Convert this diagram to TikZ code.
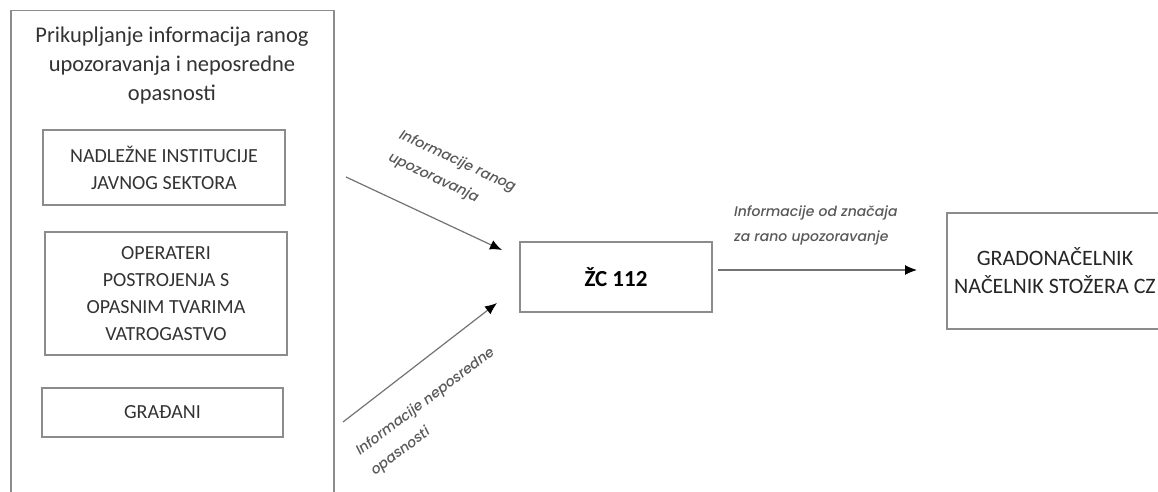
\documentclass[tikz,border=0pt]{standalone}
\usepackage{fontspec}
\setmainfont{Carlito}
\newfontfamily\labelfont{Poppins}[UprightFont=* Medium,ItalicFont=* Medium Italic]
\usetikzlibrary{arrows.meta,positioning}
\definecolor{BoxClr}{rgb}{0.55,0.55,0.55}
\definecolor{TextClr}{rgb}{0.2,0.2,0.2}
\definecolor{LineClr}{rgb}{0.45,0.45,0.45}
\definecolor{LabelClr}{rgb}{0.35,0.35,0.35}

\begin{document}
\begin{tikzpicture}[x=1pt,y=-1pt,
  box/.style={draw=BoxClr,line width=1.5pt,align=center,inner sep=0pt,text=TextClr,
    font=\fontsize{20}{27}\selectfont},
  flow/.style={draw=LineClr,line width=1.2pt,-{Latex[black,length=12pt,width=10pt]}},
  info/.style={align=left,inner sep=0pt,text=LabelClr,
    font=\labelfont\itshape\fontsize{14}{25}\selectfont}]
\useasboundingbox (0,0) rectangle (1158,492);
\fill[white] (0,0) rectangle (1158,492);

% Collecting side with its three sources.
\node[box,minimum width=323pt,minimum height=500pt,anchor=north west] (collect) at (10,10) {};
\node[align=center,text=TextClr,font=\fontsize{22.5}{29}\selectfont] (title) at (172,66)
  {Prikupljanje informacija ranog\\upozoravanja i neposredne\\opasnosti};
\node[box,minimum width=242pt,minimum height=75pt] (inst) at (164,167.5)
  {NADLEŽNE INSTITUCIJE\\JAVNOG SEKTORA};
\node[box,minimum width=242pt,minimum height=123pt] (oper) at (166,293.5)
  {OPERATERI\\POSTROJENJA S\\OPASNIM TVARIMA\\VATROGASTVO};
\node[box,minimum width=241pt,minimum height=49pt] (citizens) at (162.5,412.5) {GRAĐANI};

% Centre and the receiving side.
\node[box,minimum width=192pt,minimum height=70pt,text=black,
  font=\bfseries\fontsize{23}{27}\selectfont] (zc) at (616,277) {ŽC 112};
\node[box,minimum width=216pt,minimum height=116pt,text=black!85,
  font=\fontsize{22}{28}\selectfont] (mayor) at (1055,271)
  {GRADONAČELNIK\\NAČELNIK STOŽERA CZ};

% Free ends of the arrows.
\coordinate (early) at (346,177);
\coordinate (early tip) at (502,250);
\coordinate (danger) at (343,422);
\coordinate (danger tip) at (497,303);
\coordinate (out) at (718,270);
\coordinate (out tip) at (917,270);

\draw[flow] (early) -- (early tip);
\draw[flow] (danger) -- (danger tip);
\draw[flow] (out) -- (out tip);

\node[info,rotate=-25] (early label) at (452,173) {Informacije ranog\\upozoravanja};
\node[info,rotate=37] (danger label) at (433,412) {Informacije neposredne\\opasnosti};
\node[info,anchor=west] (out label) at (734,225) {Informacije od značaja\\za rano upozoravanje};
\end{tikzpicture}
\end{document}
